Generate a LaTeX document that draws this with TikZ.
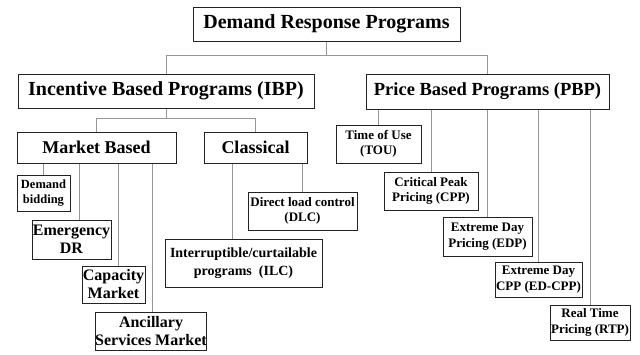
\documentclass[tikz,border=0pt]{standalone}
\usepackage{fontspec}
\setmainfont{Liberation Serif}
\usetikzlibrary{positioning,calc}
\definecolor{linkgray}{RGB}{150,150,150}
\definecolor{boxline}{RGB}{35,35,35}

\begin{document}
\begin{tikzpicture}[
    x=1pt,
    y=-1pt,
    box/.style={
        draw=boxline,
        line width=1pt,
        inner sep=0pt,
        align=center
    },
    large/.style={font=\fontsize{20}{23}\selectfont\bfseries},
    medium/.style={font=\fontsize{18}{20}\selectfont\bfseries},
    leaf/.style={font=\fontsize{16}{18}\selectfont\bfseries},
    small/.style={font=\fontsize{13}{15.5}\selectfont\bfseries},
    link/.style={
        draw=linkgray,
        line width=0.9pt
    }
]

\useasboundingbox (0,0) rectangle (640,354);

% top level
\node[
    box,
    large,
    minimum width=267pt,
    minimum height=34pt
] (drp) at (326.5,24)
{Demand Response Programs};

\node[
    box,
    large,
    minimum width=296pt,
    minimum height=34pt
] (ibp) at (166,91)
{Incentive Based Programs (IBP)};

\node[
    box,
    large,
    font=\fontsize{18.5}{21}\selectfont\bfseries,
    minimum width=243pt,
    minimum height=35pt
] (pbp) at (487.5,91.5)
{Price Based Programs (PBP)};

% incentive based
\node[
    box,
    medium,
    minimum width=159pt,
    minimum height=31pt
] (market) at (96.5,147.5)
{Market Based};

\node[
    box,
    medium,
    minimum width=103pt,
    minimum height=31pt
] (classical) at (255.5,147.5)
{Classical};

\node[
    box,
    font=\fontsize{12.5}{15}\selectfont\bfseries,
    minimum width=53pt,
    minimum height=36pt
] (bidding) at (43.5,193)
{Demand\\bidding};

\node[
    box,
    leaf,
    minimum width=79pt,
    minimum height=39pt
] (emergency) at (71.5,239.5)
{Emergency\\DR};

\node[
    box,
    leaf,
    minimum width=63pt,
    minimum height=37pt
] (capacity) at (113.5,284.5)
{Capacity\\Market};

\node[
    box,
    leaf,
    minimum width=110pt,
    minimum height=38pt
] (ancillary) at (151,331)
{Ancillary\\Services Market};

\node[
    box,
    small,
    minimum width=109pt,
    minimum height=38pt
] (dlc) at (302.5,211)
{Direct load control\\(DLC)};

\node[
    box,
    font=\fontsize{14}{18}\selectfont\bfseries,
    minimum width=157pt,
    minimum height=48pt
] (ilc) at (243.5,263)
{Interruptible/curtailable\\programs~ (ILC)};

% price based
\node[
    box,
    small,
    minimum width=85pt,
    minimum height=38pt
] (tou) at (378.5,144)
{Time of Use\\(TOU)};

\node[
    box,
    small,
    minimum width=94pt,
    minimum height=38pt
] (cpp) at (431,191)
{Critical Peak\\Pricing (CPP)};

\node[
    box,
    small,
    minimum width=89pt,
    minimum height=39pt
] (edp) at (487.5,236.5)
{Extreme Day\\Pricing (EDP)};

\node[
    box,
    small,
    minimum width=87pt,
    minimum height=35pt
] (edcpp) at (538.5,279.5)
{Extreme Day\\CPP (ED-CPP)};

\node[
    box,
    small,
    minimum width=80pt,
    minimum height=35pt
] (rtp) at (590,322.5)
{Real Time\\Pricing (RTP)};

% connectors
\draw[link] (drp.south) -- ++(0,14) -| (ibp.north);
\draw[link] (drp.south) -- ++(0,14) -| (pbp.north);

\draw[link] (ibp.south) -- ++(0,10) -| (market.north);
\draw[link] (ibp.south) -- ++(0,10) -| (classical.north);

\draw[link] (bidding.north |- market.south) -- (bidding.north);
\draw[link] ([xshift=7.5pt]emergency.north |- market.south) -- ([xshift=7.5pt]emergency.north);
\draw[link] ([xshift=4.5pt]capacity.north |- market.south) -- ([xshift=4.5pt]capacity.north);
\draw[link] ([xshift=1pt]ancillary.north |- market.south) -- ([xshift=1pt]ancillary.north);

\draw[link] ([xshift=-11.5pt]ilc.north |- classical.south) -- ([xshift=-11.5pt]ilc.north);
\draw[link] (dlc.north |- classical.south) -- (dlc.north);

\draw[link] (tou.north |- pbp.south) -- (tou.north);
\draw[link] (cpp.north |- pbp.south) -- (cpp.north);
\draw[link] (edp.north |- pbp.south) -- (edp.north);
\draw[link] (edcpp.north |- pbp.south) -- (edcpp.north);
\draw[link] (rtp.north |- pbp.south) -- (rtp.north);

\end{tikzpicture}
\end{document}
